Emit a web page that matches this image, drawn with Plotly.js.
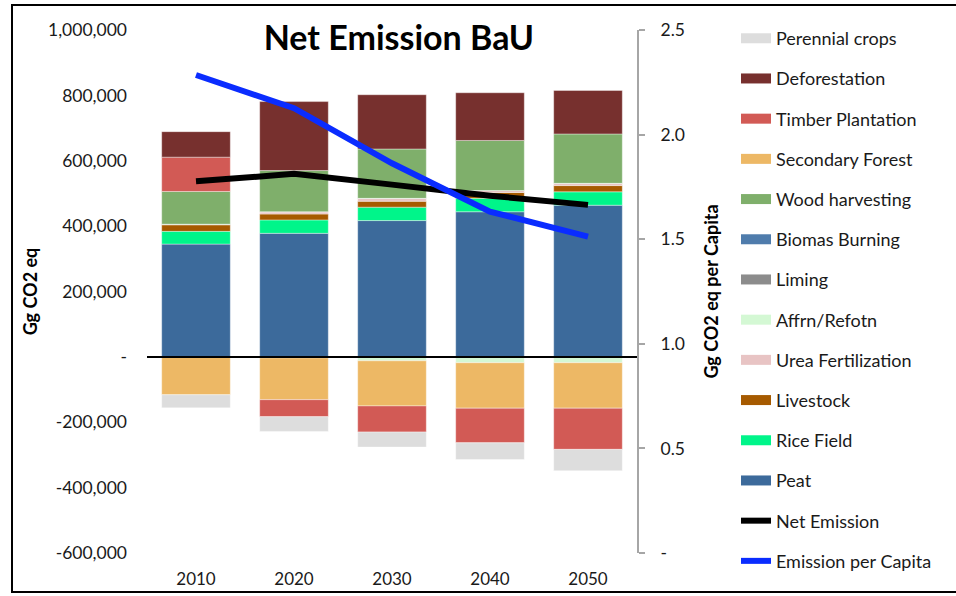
<!DOCTYPE html>
<html>
<head>
<meta charset="utf-8">
<script src="https://cdn.plot.ly/plotly-3.0.1.min.js"></script>
<style>
html,body{margin:0;padding:0;background:#fff;}
#chart{width:956px;height:596px;}
</style>
</head>
<body>
<div id="chart"></div>
<script>
// ---- data ----
var categories = ['2010', '2020', '2030', '2040', '2050'];

var peat              = [345000, 378000, 417000, 444000, 464000];
var riceField         = [39000, 41000, 41000, 41000, 41000];
var livestock         = [20000, 18000, 18000, 18000, 19000];
var ureaFertilization = [2000, 7000, 9000, 6000, 7000];
var affrnRefotn       = [0, -3000, -12000, -18000, -18000];
var liming            = [0, 0, 0, 0, 0];
var biomasBurning     = [0, 0, 0, 0, 0];
var woodHarvesting    = [100000, 126000, 151000, 153000, 151000];
var secondaryForest   = [-116000, -128000, -138000, -139000, -139000];
var timberPlantation  = [105000, -52000, -80000, -106000, -126000];
var deforestation     = [78000, 211000, 166000, 146000, 133000];
var perennialCrops    = [-40000, -45000, -46000, -51000, -65000];

var netEmission       = [537000, 560000, 527000, 493000, 465000];
var emissionPerCapita = [2.285, 2.126, 1.863, 1.632, 1.512];

var leftTickVals  = [-600000, -400000, -200000, 0, 200000, 400000, 600000, 800000, 1000000];
var leftTickText  = ['-600,000', '-400,000', '-200,000', '-', '200,000', '400,000', '600,000', '800,000', '1,000,000'];
var rightTickVals = [0, 0.5, 1.0, 1.5, 2.0, 2.5];
var rightTickText = ['-', '0.5', '1.0', '1.5', '2.0', '2.5'];

// ---- series definitions (stack order bottom-up) ----
var barSeries = [
  {name: 'Peat',               y: peat,              color: '#3c6a9b'},
  {name: 'Rice Field',         y: riceField,         color: '#00f58a'},
  {name: 'Livestock',          y: livestock,         color: '#a65a00'},
  {name: 'Urea Fertilization', y: ureaFertilization, color: '#e8c4c4'},
  {name: 'Affrn/Refotn',       y: affrnRefotn,       color: '#d4f8d4'},
  {name: 'Liming',             y: liming,            color: '#8c8c8c'},
  {name: 'Biomas Burning',     y: biomasBurning,     color: '#4f7cac'},
  {name: 'Wood harvesting',    y: woodHarvesting,    color: '#7faf6b'},
  {name: 'Secondary Forest',   y: secondaryForest,   color: '#edb865'},
  {name: 'Timber Plantation',  y: timberPlantation,  color: '#d25a55'},
  {name: 'Deforestation',      y: deforestation,     color: '#77302e'},
  {name: 'Perennial crops',    y: perennialCrops,    color: '#dddddd'}
];

var FONT = 'Lato, "Open Sans", sans-serif';
var traces = [];

// legend swatches (wide flat bars like the original), listed top-down
barSeries.slice().reverse().forEach(function (s) {
  traces.push({
    type: 'scatter', mode: 'lines',
    x: categories, y: categories.map(function () { return null; }),
    name: s.name, legendgroup: s.name,
    line: {color: s.color, width: 10},
    hoverinfo: 'skip', showlegend: true
  });
});

barSeries.forEach(function (s) {
  traces.push({
    type: 'bar', x: categories, y: s.y, name: s.name,
    legendgroup: s.name, showlegend: false,
    marker: {color: s.color, line: {color: 'rgba(255,255,255,0.55)', width: 0.7}}
  });
});

traces.push({
  type: 'scatter', mode: 'lines', x: categories, y: netEmission,
  name: 'Net Emission', legendgroup: 'Net Emission',
  line: {color: '#000000', width: 6}
});
traces.push({
  type: 'scatter', mode: 'lines', x: categories, y: emissionPerCapita,
  name: 'Emission per Capita', legendgroup: 'Emission per Capita',
  yaxis: 'y2', line: {color: '#0a2cff', width: 6}
});

var layout = {
  width: 956, height: 596,
  paper_bgcolor: '#ffffff', plot_bgcolor: 'rgba(0,0,0,0)',
  margin: {l: 147, r: 319, t: 30, b: 43},
  font: {family: FONT, size: 17, color: '#1a1a1a'},
  barmode: 'relative', bargap: 0.3,
  title: {
    text: '<b>Net Emission BaU</b>',
    font: {family: FONT, size: 34, color: '#000'},
    xref: 'paper', x: 0.514, xanchor: 'center',
    yref: 'container', y: 1 - 38 / 596, yanchor: 'middle'
  },
  xaxis: {
    type: 'category', showgrid: false, showline: false, zeroline: false,
    ticks: '', ticklabelstandoff: 14,
    tickfont: {family: FONT, size: 17, color: '#1a1a1a'}
  },
  yaxis: {
    range: [-600000, 1000000], showgrid: false, zeroline: false, showline: false,
    tickvals: leftTickVals, ticktext: leftTickText, ticks: '',
    ticklabelstandoff: 19,
    tickfont: {family: FONT, size: 17.5, color: '#1a1a1a'},
    title: {text: '<b>Gg CO2 eq</b>', font: {family: FONT, size: 18, color: '#000'}, standoff: 5}
  },
  yaxis2: {
    overlaying: 'y', side: 'right', range: [0, 2.5],
    showgrid: false, zeroline: false,
    showline: true, linecolor: '#a6a6a6', linewidth: 2,
    ticks: 'outside', ticklen: 6, tickcolor: '#a6a6a6', tickwidth: 2,
    tickvals: rightTickVals, ticktext: rightTickText,
    ticklabelstandoff: 12,
    tickfont: {family: FONT, size: 17.5, color: '#1a1a1a'},
    title: {text: '<b>Gg CO2 eq per Capita</b>', font: {family: FONT, size: 18, color: '#000'}, standoff: 21}
  },
  legend: {
    x: 1.202, xanchor: 'left', y: 1.019, yanchor: 'top',
    traceorder: 'grouped', tracegroupgap: 13.8,
    maxheight: 600,
    font: {family: FONT, size: 18, color: '#1a1a1a'},
    bgcolor: 'rgba(0,0,0,0)'
  },
  shapes: [
    {type: 'line', xref: 'paper', yref: 'y', x0: 0, x1: 1, y0: 0, y1: 0,
     line: {color: '#000', width: 2}, layer: 'above'},
    {type: 'rect', xref: 'paper', yref: 'paper',
     x0: (12 - 147) / 490, x1: (962 - 147) / 490,
     y0: (553 - 592) / 523, y1: (553 - 5) / 523,
     line: {color: '#000', width: 2}, fillcolor: 'rgba(0,0,0,0)', layer: 'below'}
  ],
  showlegend: true
};

Plotly.newPlot('chart', traces, layout, {displayModeBar: false, staticPlot: true});
</script>
</body>
</html>
